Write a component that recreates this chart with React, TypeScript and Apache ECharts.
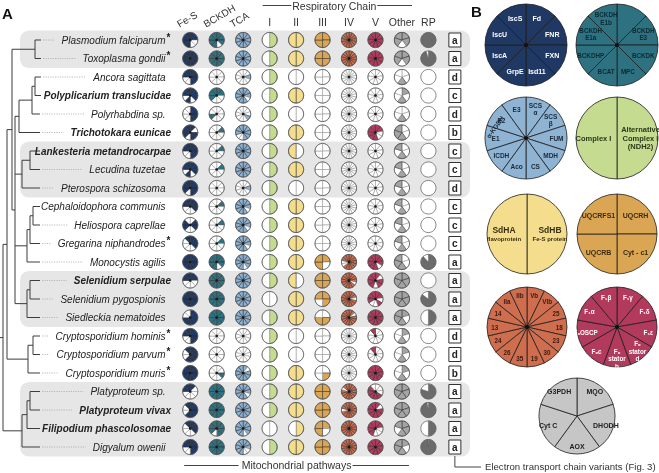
import React, { useEffect, useRef } from "react";
import * as echarts from "echarts";

const FONT = "Liberation Sans, Arial, Helvetica, sans-serif";

// ---------------- data ----------------
const species = [
  "Plasmodium falciparum", "Toxoplasma gondii", "Ancora sagittata", "Polyplicarium translucidae",
  "Polyrhabdina sp.", "Trichotokara eunicae", "Lankesteria metandrocarpae", "Lecudina tuzetae",
  "Pterospora schizosoma", "Cephaloidophora communis", "Heliospora caprellae", "Gregarina niphandrodes",
  "Monocystis agilis", "Selenidium serpulae", "Selenidium pygospionis", "Siedleckia nematoides",
  "Cryptosporidium hominis", "Cryptosporidium parvum", "Cryptosporidium muris", "Platyproteum sp.",
  "Platyproteum vivax", "Filipodium phascolosomae", "Digyalum owenii",
];
const boldSpecies = [
  "Polyplicarium translucidae", "Trichotokara eunicae", "Lankesteria metandrocarpae",
  "Selenidium serpulae", "Platyproteum vivax", "Filipodium phascolosomae",
];
const starredSpecies = [
  "Plasmodium falciparum", "Toxoplasma gondii", "Gregarina niphandrodes",
  "Cryptosporidium hominis", "Cryptosporidium parvum", "Cryptosporidium muris",
];
const shadedGroups = [[0, 1], [6, 8], [13, 15], [19, 22]];

const columnLabels = ["Fe-S", "BCKDH", "TCA", "I", "II", "III", "IV", "V", "Other", "RP"];

// segment presence, clockwise from 12 o'clock
const feS = ["11001111", "11111111", "11110011", "11101011", "11110000", "10110111", "11110011", "11101011", "11110111", "11100011", "01100110", "11100001", "11111111", "11000011", "11111111", "11111100", "11110011", "11111001", "11111111", "10000011", "11111001", "11100001", "11110011"];
const bckdh = ["11101111", "11111111", "00000000", "11000111", "00000100", "01000000", "01000000", "01000000", "00000000", "01000000", "01000000", "01000000", "11101111", "11111111", "11111111", "11111111", "00000000", "00000000", "00100000", "11111111", "11111111", "11110111", "11111111"];
const tca = ["1111111111", "1111111111", "0010000000", "1110111111", "0001000000", "1111100111", "1111111111", "1111111111", "0010000000", "1110111111", "1110111111", "1110111111", "1111011111", "1111111111", "1111111111", "1111111111", "0000000000", "0000000000", "1011111111", "1110111111", "1111111111", "1111011111", "1110011111"];
const complexI = ["10", "10", "10", "10", "10", "10", "10", "10", "10", "10", "10", "10", "10", "10", "00", "10", "10", "10", "10", "10", "10", "00", "10"];
const complexII = ["11", "11", "00", "11", "00", "11", "01", "11", "00", "11", "11", "11", "11", "01", "11", "11", "00", "00", "11", "11", "11", "10", "11"];
const complexIII = ["1111", "1111", "0000", "0000", "0000", "0000", "0000", "0000", "0000", "0000", "0000", "0000", "1011", "1111", "1101", "0110", "0000", "0000", "0100", "1111", "1111", "1011", "1111"];
const IV_FULL = "11111111111111";
const IV_NONE = "00000000000000";
const complexIV = [IV_FULL, IV_FULL, IV_NONE, IV_NONE, IV_NONE, IV_NONE, IV_NONE, IV_NONE, IV_NONE, IV_NONE, IV_NONE, IV_NONE, "11111111100111", "11110111111111", "11101111111111", "11011111111111", IV_NONE, IV_NONE, IV_NONE, "11111111111011", "11111111110111", IV_FULL, IV_FULL];
const complexV = ["111111111", "111111111", "000000000", "000000000", "000000000", "110011111", "000000000", "000000000", "000000000", "000000000", "000000000", "000000000", "111011111", "101101111", "110100111", "111111111", "000000001", "000000001", "111111111", "000111110", "101111111", "110001111", "111111111"];
const otherPath = ["11011", "11011", "00100", "10100", "00100", "00111", "00101", "00101", "00101", "00101", "00101", "00101", "00111", "11111", "11111", "10111", "10100", "10100", "10100", "11111", "11111", "11101", "10111"];
const rpFraction = [1, 0.95, 0, 0, 0, 0, 0, 0, 0, 0, 0, 0, 0.88, 0, 0.85, 0.5, 0, 0, 0, 0.8, 0.97, 0.5, 0.99];
const etcVariant = ["a", "a", "d", "c", "d", "b", "c", "c", "d", "c", "c", "c", "a", "a", "a", "a", "d", "d", "b", "a", "a", "a", "a"];

// panel B segment names, clockwise from 12 o'clock
const feSParts = ["Fd", "FNR", "FXN", "Isd11", "GrpE", "IscA", "IscU", "IscS"];
const bckdhParts = ["BCKDH\nE2", "BCKDH\nE3", "BCKDK", "MPC", "BCAT", "BCKDHP", "BCKDH\nE1a", "BCKDH\nE1b"];
const tcaParts = ["SCS\nα", "SCS\nβ", "FUM", "MDH", "CS", "Aco", "ICDH", "E1", "E2", "E3"];
const complexIParts = ["Alternative\nComplex I\n(NDH2)", "Complex I"];
const complexIIParts = ["SdHB\nFe-S protein", "SdHA\nflavoprotein"];
const complexIIIParts = ["UQCRH", "Cyt - c1", "UQCRB", "UQCRFS1"];
const complexIVParts = ["Vb", "VIb", "25", "18", "23", "30", "19", "35", "26", "24", "13", "14", "IIa", "IIb"];
const complexVParts = ["F₁γ", "F₁δ", "F₁ε", "Fₒ\nstator\nd", "Fₒ\nstator\nb", "Fₒc", "FₒOSCP", "F₁α", "F₁β"];
const otherParts = ["MQO", "DHODH", "AOX", "Cyt C", "G3PDH"];

// ---------------- style ----------------
const pieColors = ["#1f3864", "#2e7181", "#8cb1d2", "#c4db90", "#f4de8e", "#dba653", "#cf6e4f", "#b13a5d", "#a4a4a4"];

type TreeNode = { x: number; kids: Array<number | TreeNode> };
const node = (x: number, ...kids: Array<number | TreeNode>): TreeNode => ({ x, kids });
const tree = node(3,
  node(7,
    node(12,
      node(35, 0, 1),
      node(15,
        node(19, node(32, node(35, 2, 3), 4), 5),
        node(22, node(30, 6, 7), 8),
        node(27, node(30, node(33, 9, 10), 11), 12),
        node(27, node(30, 13, 14), 15))),
    node(28, node(33, 16, 17), 18)),
  node(22, node(27, node(30, 19, 20), 21), 22));

export default function App() {
  const ref = useRef<HTMLDivElement>(null);
  useEffect(() => {
    if (!ref.current) return;
    const chart = echarts.init(ref.current, undefined, { renderer: "svg" });
    const R = 7.6;

    const segColumns = [feS, bckdh, tca, complexI, complexII, complexIII, complexIV, complexV, otherPath];
    const cells: any[] = [];
    segColumns.forEach((arr, c) => arr.forEach((p, r) => cells.push({ col: c, row: r, kind: "seg", pattern: p, color: pieColors[c] })));
    rpFraction.forEach((f, r) => cells.push({ col: 9, row: r, kind: "rp", frac: f }));
    etcVariant.forEach((l, r) => cells.push({ col: 10, row: r, kind: "box", letter: l }));

    const renderItem = (params: any, api: any) => {
      const cell = cells[params.dataIndex];
      const pt = api.coord([api.value(0), api.value(1)]);
      const cx = pt[0], cy = pt[1];
      const children: any[] = [];
      if (cell.kind === "seg") {
        const n = cell.pattern.length;
        const step = (Math.PI * 2) / n;
        for (let i = 0; i < n; i++) {
          const on = cell.pattern[i] === "1";
          children.push({
            type: "sector",
            shape: { cx, cy, r: R, r0: 0, startAngle: -Math.PI / 2 + i * step, endAngle: -Math.PI / 2 + (i + 1) * step, clockwise: true },
            style: { fill: on ? cell.color : "#ffffff", stroke: on ? "#2a2a2a" : "#8a8a8a", lineWidth: 0.5 },
          });
        }
        children.push({ type: "circle", shape: { cx, cy, r: R }, style: { fill: "none", stroke: "#5a5a5a", lineWidth: 0.8 } });
        if (n >= 8) children.push({ type: "circle", shape: { cx, cy, r: 1.3 }, style: { fill: "#1a1a1a" } });
      } else if (cell.kind === "rp") {
        children.push({ type: "circle", shape: { cx, cy, r: R }, style: { fill: "#ffffff", stroke: "#6a6a6a", lineWidth: 0.8 } });
        if (cell.frac > 0) {
          children.push({
            type: "sector",
            shape: { cx, cy, r: R, r0: 0, startAngle: -Math.PI / 2, endAngle: -Math.PI / 2 + cell.frac * Math.PI * 2, clockwise: true },
            style: { fill: "#6b6b6b", stroke: "#555", lineWidth: 0.4 },
          });
        }
      } else {
        children.push({ type: "rect", shape: { x: cx - 6, y: cy - 7, width: 12, height: 14 }, style: { fill: "#ffffff", stroke: "#333", lineWidth: 1 } });
        children.push({ type: "text", x: cx, y: cy, style: { text: cell.letter, align: "center", verticalAlign: "middle", fontSize: 10, fontWeight: "bold", fontFamily: FONT, fill: "#222" } });
      }
      return { type: "group", children };
    };

    const panelB = [
      { parts: feSParts, center: [526, 45], r: 41, color: pieColors[0], label: "#ffffff", ratio: 0.62, fs: 7, dot: true },
      { parts: bckdhParts, center: [617, 45], r: 41, color: pieColors[1], label: "#0c2a31", ratio: 0.62, fs: 6.3, dot: true },
      { parts: tcaParts, center: [526, 138], r: 41, color: "#8fb3d3", label: "#1a2a3a", ratio: 0.67, fs: 6.5, dot: true },
      { parts: complexIParts, center: [617, 138], r: 41, color: pieColors[3], label: "#2a3818", ratio: 0.5, fs: 7.5 },
      { parts: complexIIParts, center: [527, 234], r: 40, color: pieColors[4], label: "#3a3010", ratio: 0.5, fs: 7.5, rich: true },
      { parts: complexIIIParts, center: [617, 234], r: 40, color: pieColors[5], label: "#3a2a10", ratio: 0.58, fs: 7 },
      { parts: complexIVParts, center: [527, 327], r: 40, color: pieColors[6], label: "#3a1a10", ratio: 0.73, fs: 6.3, dot: true },
      { parts: complexVParts, center: [617, 327], r: 40, color: pieColors[7], label: "#ffffff", ratio: 0.72, fs: 6.3, dot: true },
      { parts: otherParts, center: [577, 416], r: 38, color: "#c6c6c6", label: "#222222", ratio: 0.72, fs: 7 },
    ];

    const pieSeries: any[] = [];
    panelB.forEach((p) => {
      pieSeries.push({
        type: "pie", center: p.center, radius: p.r, startAngle: 90, clockwise: true, silent: true,
        data: p.parts.map((name) => ({ name, value: 1 })),
        label: { show: false }, labelLine: { show: false },
        itemStyle: { color: p.color, borderColor: "#1e1e1e", borderWidth: 0.8 },
        emphasis: { disabled: true }, z: 2,
      });
      const label: any = {
        show: true, position: "inside", formatter: "{b}", color: p.label, fontSize: p.fs,
        fontWeight: "bold", fontFamily: FONT, lineHeight: p.fs + 1.2,
      };
      if (p.rich) {
        label.formatter = (q: any) => {
          const [h, s] = String(q.name).split("\n");
          return `{a|${h}}\n{b|${s}}`;
        };
        label.rich = {
          a: { fontSize: 8.5, fontWeight: "bold", color: p.label, fontFamily: FONT, lineHeight: 10 },
          b: { fontSize: 6, fontWeight: "bold", color: p.label, fontFamily: FONT, lineHeight: 8 },
        };
      }
      pieSeries.push({
        type: "pie", center: p.center, radius: [p.r * (2 * p.ratio - 1), p.r], startAngle: 90, clockwise: true, silent: true,
        data: p.parts.map((name) => ({ name, value: 1 })),
        label, labelLine: { show: false },
        itemStyle: { color: "rgba(0,0,0,0)", borderWidth: 0 },
        emphasis: { disabled: true }, z: 3,
      });
    });

    chart.setOption({
      animation: false,
      grid: { left: 177, width: 291.1, top: 30.75, height: 425.5 },
      xAxis: { type: "value", min: -0.5, max: 10.5, show: false },
      yAxis: { type: "value", min: -0.5, max: 22.5, inverse: true, show: false },
      series: [
        { type: "custom", renderItem, data: cells.map((c) => [c.col, c.row]), silent: true, z: 3 },
        ...pieSeries,
      ],
    });

    const colX = (c: number) => (chart.convertToPixel({ gridIndex: 0 } as any, [c, 0]) as number[])[0];
    const rowY = (r: number) => (chart.convertToPixel({ gridIndex: 0 } as any, [0, r]) as number[])[1];

    const els: any[] = [];
    const line = (x1: number, y1: number, x2: number, y2: number, stroke = "#3c3c3c", lineWidth = 1, dash?: number[]) =>
      els.push({ type: "line", silent: true, shape: { x1, y1, x2, y2 }, style: { stroke, lineWidth, lineDash: dash } });
    const text = (x: number, y: number, t: string, opts: any = {}, extra: any = {}) =>
      els.push({ type: "text", silent: true, x, y, ...extra, style: { text: t, fontFamily: FONT, fontSize: 10, fill: "#333", align: "left", verticalAlign: "middle", ...opts } });

    // shaded groups
    shadedGroups.forEach(([a, b]) => {
      const y0 = rowY(a) - 9.6, y1 = rowY(b) + 9.6;
      els.push({ type: "rect", silent: true, z: -1, shape: { x: 20, y: y0, width: 450, height: y1 - y0, r: 9 }, style: { fill: "#e6e6e6" } });
    });

    // tree
    const stubEnd: number[] = [];
    const layout = (n: number | TreeNode): number => {
      if (typeof n === "number") return rowY(n);
      const ys = n.kids.map((k) => layout(k));
      line(n.x, ys[0], n.x, ys[ys.length - 1]);
      n.kids.forEach((k, i) => {
        const endX = typeof k === "number" ? Math.max(40, n.x + 6) : k.x;
        line(n.x, ys[i], endX, ys[i]);
        if (typeof k === "number") stubEnd[k] = endX;
      });
      return (ys[0] + ys[ys.length - 1]) / 2;
    };
    const rootY = layout(tree);
    line(0, rootY, 3, rootY);

    // species names
    const ctx = document.createElement("canvas").getContext("2d")!;
    species.forEach((name, i) => {
      const bold = boldSpecies.includes(name);
      const right = bold ? 171 : 165.5;
      ctx.font = `italic ${bold ? "bold " : ""}10px "Liberation Sans"`;
      const w = ctx.measureText(name).width;
      const y = rowY(i);
      text(right, y, name, { align: "right", fontStyle: "italic", fontWeight: bold ? "bold" : "normal", fill: "#222" });
      if (starredSpecies.includes(name)) text(right + 1, y - 3, "*", { fontSize: 10, fontWeight: "bold", fill: "#222" });
      const x1 = stubEnd[i] + 2, x2 = right - w - 7;
      if (x2 - x1 > 4) line(x1, y, x2, y, "#a8a8a8", 0.8, [1.2, 1.2]);
    });

    // column headers
    [0, 1, 2].forEach((c) => text(colX(c) - 10, 29, columnLabels[c], { verticalAlign: "bottom", fontSize: 10 }, { rotation: Math.PI / 6 }));
    for (let c = 3; c < 10; c++) text(colX(c), 22, columnLabels[c], { align: "center", fontSize: 10.5 });
    const rcL = colX(3) - 7, rcR = colX(8) + 10, rcMid = (rcL + rcR) / 2 - 3;
    text(rcMid, 6, "Respiratory Chain", { align: "center", fontSize: 10.5 });
    line(rcL, 5.5, rcMid - 43, 5.5, "#444", 1);
    line(rcMid + 43, 5.5, rcR, 5.5, "#444", 1);

    // footer
    const mpL = colX(0) - 6, mpR = colX(8) + 7, mpMid = (mpL + mpR) / 2;
    text(mpMid, 465, "Mitochondrial pathways", { align: "center", fontSize: 10.5 });
    line(mpL, 465.5, mpMid - 58, 465.5, "#444", 1);
    line(mpMid + 56, 465.5, mpR, 465.5, "#444", 1);
    const bx = colX(10);
    line(bx, 456, bx, 467, "#444", 1);
    line(bx, 467, 481, 467, "#444", 1);
    text(485, 466, "Electron transport chain variants (Fig. 3)", { fontSize: 9.6 });

    // panel letters
    text(2, 13, "A", { fontSize: 15, fontWeight: "bold", fill: "#111" });
    text(471, 11, "B", { fontSize: 15, fontWeight: "bold", fill: "#111" });

    // panel B extras
    panelB.forEach((p) => {
      if (p.dot) els.push({ type: "circle", silent: true, z: 100, shape: { cx: p.center[0], cy: p.center[1], r: 2 }, style: { fill: "#111" } });
    });
    text(495, 127, "α-KGDH", { align: "center", fontSize: 6.5, fontWeight: "bold", fill: "#1a2a3a" }, { rotation: 0.95, z: 100 });

    chart.setOption({ graphic: { elements: els } });
    return () => chart.dispose();
  }, []);
  return <div ref={ref} style={{ position: "fixed", left: 0, top: 0, width: 659, height: 473 }} />;
}
